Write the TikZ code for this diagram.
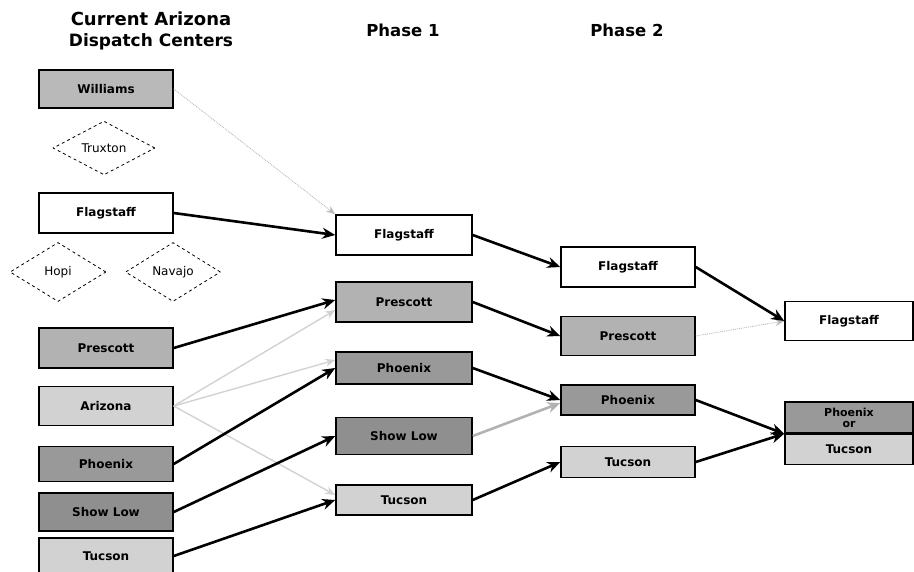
\documentclass[tikz,border=0pt]{standalone}
\usepackage{fontspec}
\setmainfont{DejaVu Sans}
\usetikzlibrary{positioning,shapes.geometric,arrows.meta}

\begin{document}
\begin{tikzpicture}[x=1pt, y=-1pt,
    disp/.style={draw, line width=1.5pt, inner sep=0pt, minimum width=134pt,
        font=\bfseries\fontsize{12}{13}\selectfont},
    tribe/.style={diamond, draw, dashed, line width=0.8pt, inner sep=0pt,
        font=\fontsize{12}{13}\selectfont},
    head/.style={font=\bfseries\fontsize{17}{19}\selectfont},
    link/.style={-{Stealth[length=13pt,width=11pt]}, line width=2.6pt},
    minor/.style={-{Stealth[length=10pt,width=8pt]}, line width=1.4pt, gray!35},
    faint/.style={-{Stealth[length=9pt,width=7pt]}, line width=0.9pt, gray!55, densely dotted}]

    \useasboundingbox (0,0) rectangle (914,571);

    % ---- Headings ----
    \node[head, font=\bfseries\fontsize{18}{20}\selectfont] (hcur) at (151,19) {Current Arizona};
    \node[head] (hdisp) at (151,42) {Dispatch Centers};
    \node[head, font=\bfseries\fontsize{16.5}{18}\selectfont] (hone) at (403,30) {Phase 1};
    \node[head, font=\bfseries\fontsize{16.5}{18}\selectfont] (htwo) at (627,30) {Phase 2};

    % ---- Current centers ----
    \node[disp, fill=gray!55, minimum height=38pt] (cwil) at (106,89) {Williams};
    \node[tribe, minimum width=102pt, minimum height=53pt] (trux) at (104,148) {Truxton};
    \node[disp, fill=white, minimum height=40pt] (cflag) at (106,213) {Flagstaff};
    \node[tribe, minimum width=96pt, minimum height=59pt] (hopi) at (58,272) {Hopi};
    \node[tribe, minimum width=95pt, minimum height=59pt] (navajo) at (173,272) {Navajo};
    \node[disp, fill=gray!60, minimum height=40pt] (cpres) at (106,348) {Prescott};
    \node[disp, fill=gray!35, minimum height=39pt] (cari) at (106,406) {Arizona};
    \node[disp, fill=gray!80, minimum height=35pt] (cphx) at (106,464) {Phoenix};
    \node[disp, fill=gray!88, minimum height=38pt] (cshow) at (106,512) {Show Low};
    \node[disp, fill=gray!35, minimum height=36pt] (ctuc) at (106,556) {Tucson};

    % ---- Phase 1 ----
    \node[disp, minimum width=136pt, fill=white, minimum height=40pt] (pflag1) at (404,235) {Flagstaff};
    \node[disp, minimum width=136pt, fill=gray!60, minimum height=40pt] (ppres1) at (404,302) {Prescott};
    \node[disp, minimum width=136pt, fill=gray!80, minimum height=32pt] (pphx1) at (404,368) {Phoenix};
    \node[disp, minimum width=136pt, fill=gray!88, minimum height=37pt] (pshow1) at (404,436) {Show Low};
    \node[disp, minimum width=136pt, fill=gray!35, minimum height=30pt] (ptuc1) at (404,500) {Tucson};

    % ---- Phase 2 ----
    \node[disp, fill=white, minimum height=40pt] (pflag2) at (628,267) {Flagstaff};
    \node[disp, fill=gray!60, minimum height=39pt] (ppres2) at (628,336) {Prescott};
    \node[disp, fill=gray!80, minimum height=30pt] (pphx2) at (628,400) {Phoenix};
    \node[disp, fill=gray!35, minimum height=31pt] (ptuc2) at (628,462) {Tucson};

    % ---- Final ----
    \node[disp, minimum width=128pt, fill=white, minimum height=39pt] (fflag) at (849,321) {Flagstaff};
    \node[disp, minimum width=128pt, fill=gray!80, minimum height=31pt, align=center,
        font=\bfseries\fontsize{11}{11}\selectfont] (fphx) at (849,417.5) {Phoenix\\or};
    \node[disp, minimum width=128pt, fill=gray!35, minimum height=30pt, below=0pt of fphx] (ftuc) {Tucson};

    % Arrows into phase 1
    \draw[faint] (cwil.east) -- (pflag1.north west);
    \draw[minor] (cari.east) -- ([yshift=-8pt]ppres1.west);
    \draw[minor] (cari.east) -- ([yshift=8pt]pphx1.west);
    \draw[minor] (cari.east) -- ([yshift=5pt]ptuc1.west);
    \draw[link] (cflag.east) -- (pflag1.west);
    \draw[link] (cpres.east) -- ([yshift=2pt]ppres1.west);
    \draw[link] (cphx.east) -- (pphx1.west);
    \draw[link] (cshow.east) -- (pshow1.west);
    \draw[link] (ctuc.east) -- (ptuc1.west);

    % Arrows into phase 2
    \foreach \a/\b in {pflag1/pflag2, ppres1/ppres2, pphx1/pphx2, ptuc1/ptuc2}
        \draw[link] (\a.east) -- (\b.west);
    \draw[link, gray!60] (pshow1.east) -- ([yshift=-3pt]pphx2.west);

    % Arrows into final
    \draw[faint] (ppres2.east) -- (fflag.west);
    \draw[link] (pflag2.east) -- (fflag.west);
    \draw[link] (pphx2.east) -- (fphx.south west);
    \draw[link] (ptuc2.east) -- (fphx.south west);
\end{tikzpicture}
\end{document}
